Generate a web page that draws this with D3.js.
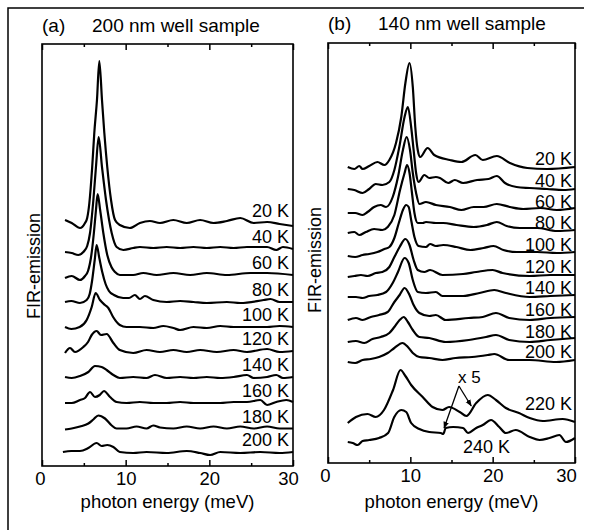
<!DOCTYPE html>
<html><head><meta charset="utf-8">
<script src="https://cdn.jsdelivr.net/npm/d3@7"></script>
<style>
html,body{margin:0;padding:0;background:#fff;}
svg{display:block;font-family:"Liberation Sans",Arial,Helvetica,sans-serif;}
</style></head><body>
<svg id="chart" width="596" height="530"></svg>
<script>
// ---------- data ----------
const energyTicks = [0, 10, 20, 30];
const energyMinorTicks = [5, 15, 25];

// Panel (a): 200 nm well sample — [photon energy (meV), emission (a.u., relative to curve baseline)]
const tempsA = ["20 K", "40 K", "60 K", "80 K", "100 K", "120 K", "140 K", "160 K", "180 K", "200 K"];
const offsetsA = [243, 217, 191, 164, 139, 115, 89, 63, 37.5, 14];
const a20K = [[2.75,3],[3.55,0],[4.54,-5],[5.14,0],[5.4,5],[5.66,20],[6.0,56],[6.25,90],[6.57,123],[6.85,162],[7.17,123],[7.45,90],[7.8,56],[8.25,23],[8.73,3],[9.3,-2],[10.5,-5],[11.7,0],[12.9,2],[14.1,0],[15.7,3],[17.3,0],[18.9,3],[20.5,0],[22.1,2],[23.7,5],[25.3,0],[26.9,1],[28.4,-1],[30,-3]];
const a40K = [[2.75,-3],[3.55,-4],[4.34,-6],[4.94,-3],[5.4,3],[5.74,16],[6.14,49],[6.45,82],[6.77,112],[7.17,82],[7.65,49],[8.33,16],[8.92,2],[9.72,-1],[10.9,1],[11.7,2],[13.3,1],[14.9,2],[16.5,1],[18.1,2],[19.7,1],[21.3,2],[22.9,1],[24.5,2],[26.9,2],[28.0,-1],[28.8,2],[30,0]];
const a60K = [[2.75,-3],[3.55,-1],[4.54,-5],[5.14,-1],[5.5,4],[5.9,20],[6.2,42],[6.45,65],[6.65,81],[6.95,65],[7.33,42],[7.8,20],[8.3,8],[8.73,3],[9.3,0],[10.9,0],[12.1,2],[13.7,0],[15.7,2],[17.7,0],[19.7,2],[22.1,0],[24.9,2],[26.9,2],[30,0]];
const a80K = [[2.75,0],[3.5,1],[4.54,-1],[5.34,2],[5.7,8],[6.0,22],[6.3,42],[6.53,57],[6.85,44],[7.2,30],[7.6,18],[8.0,11],[8.6,7],[9.7,4],[10.4,4],[11.1,7],[11.7,3],[12.3,6],[13.3,2],[14.9,0],[16.5,1],[18.1,0],[19.7,-1],[22.1,0],[23.7,-1],[26.5,2],[27.3,3],[28.4,0],[30,0]];
const a100K = [[2.75,0],[3.5,-2],[4.5,0],[5.34,7],[5.94,20],[6.41,34],[6.93,27],[7.53,22],[7.93,19],[8.5,10],[9.3,2],[10.1,0],[11.7,0],[13.3,-1],[14.5,1],[15.7,-1],[16.5,-3],[18.1,0],[19.7,-1],[21.3,1],[22.9,0],[24.5,0],[26.9,0],[28.4,1],[30,0]];
const a120K = [[2.75,-2],[3.35,3],[3.94,-1],[4.94,4],[5.5,9],[5.94,16],[6.53,20],[7.05,16],[7.73,17],[8.53,8],[9.3,1],[10.9,-2],[12.5,1],[14.1,-1],[15.7,1],[17.3,-1],[18.9,1],[20.9,-1],[22.9,1],[24.5,-1],[26.9,2],[28.4,-1],[30,0]];
const a140K = [[2.75,0],[3.55,-1],[4.54,1],[5.54,5],[6.33,11],[7.13,10],[7.73,7],[8.53,2],[9.3,-1],[10.9,0],[12.5,-1],[13.5,2],[14.9,-1],[16.5,0],[18.1,-1],[19.7,0],[21.3,-1],[22.9,0],[24.5,2],[25.3,-1],[26.9,0],[28.0,2],[28.8,-1],[30,0]];
const a160K = [[2.75,0],[3.55,0],[4.54,3],[5.14,5],[5.74,11],[6.33,6],[6.9,8],[7.41,12],[8.13,6],[8.92,1],[10.1,0],[11.7,1],[13.3,0],[14.9,0],[16.5,1],[18.1,0],[19.7,0],[21.3,0],[22.9,1],[24.5,1],[26.1,3],[26.9,-2],[28.0,1],[29.2,3],[30,1]];
const a180K = [[2.75,-1],[3.55,0],[4.54,2],[5.54,5],[6.14,9],[6.73,13],[7.53,10],[8.33,3],[8.92,0],[10.1,0],[11.3,2],[12.5,0],[13.3,3],[14.1,1],[15.7,0],[17.3,2],[18.9,0],[20.5,2],[22.1,0],[23.7,2],[25.3,0],[26.9,2],[28.4,0],[30,0]];
const a200K = [[2.5,0],[3.5,1],[4.54,1],[5.54,4],[6.53,9],[7.13,6],[7.8,7],[8.53,5],[9.3,0],[10.9,-1],[12.5,0],[14.9,-1],[17.3,1],[18.9,-1],[20.1,-3],[21.3,0],[23.7,-1],[26.1,0],[28.4,-1],[30,0]];
const seriesA = [a20K, a40K, a60K, a80K, a100K, a120K, a140K, a160K, a180K, a200K];

// Panel (b): 140 nm well sample
const tempsB = ["20 K", "40 K", "60 K", "80 K", "100 K", "120 K", "140 K", "160 K", "180 K", "200 K", "220 K", "240 K"];
const offsetsB = [296, 274, 253, 232, 210, 188, 167, 145, 123, 103, 41, 25];
const b20K = [[2.4,0],[3.2,-2],[3.8,1],[4.2,-2],[5.0,1],[6.0,5],[6.85,2],[7.45,7],[8.26,24],[8.9,50],[9.4,84],[9.9,104],[10.3,80],[10.6,40],[10.9,17],[11.2,10],[12.1,19],[12.9,12],[14.8,7],[16.2,5],[17.9,12],[18.8,7],[20.5,11],[22.1,4],[24.2,-1],[26.6,-2],[30,0]];
const b40K = [[2.4,0],[3.2,-1],[4.2,-4],[5.0,0],[5.8,5],[6.6,4],[7.45,7],[8.06,19],[8.66,42],[9.3,72],[9.7,82],[10.1,62],[10.4,39],[10.7,16],[11.0,7],[11.7,14],[12.3,11],[13.1,12],[13.6,11],[14.6,6],[15.4,9],[16.4,6],[18.1,9],[19.5,10],[20.5,13],[21.5,6],[22.9,2],[24.5,1],[26.6,0],[28.6,-1],[30,0]];
const b60K = [[2.4,-3],[3.3,-3],[4.2,-5],[4.8,-2],[5.6,3],[6.4,5],[7.05,3],[7.86,13],[8.5,33],[9.1,60],[9.55,73],[9.96,60],[10.3,37],[10.7,17],[11.1,6],[11.9,8],[13.1,5],[14.8,3],[16.2,0],[17.7,3],[18.9,3],[20.5,6],[22.1,3],[23.7,1],[25.8,2],[27.8,0],[30,2]];
const b80K = [[2.4,-2],[3.2,-1],[3.8,-4],[4.6,-1],[5.6,2],[6.6,1],[7.25,4],[8.06,16],[8.75,41],[9.3,58],[9.6,66],[9.9,58],[10.2,38],[10.5,18],[10.9,8],[11.5,8],[11.9,9],[13.1,8],[14.0,8],[15.6,6],[17.7,4],[19.3,6],[20.5,9],[21.7,5],[23.3,3],[25.4,3],[27.8,0],[30,1]];
const b100K = [[2.4,-3],[3.3,-4],[4.2,-2],[5.0,-1],[6.0,1],[6.85,4],[7.45,6],[8.06,15],[8.6,30],[9.1,43],[9.5,48],[9.8,46],[10.1,33],[10.5,16],[11.0,7],[11.9,6],[12.4,9],[13.1,7],[14.0,8],[15.6,6],[17.3,3],[18.9,5],[20.1,7],[21.3,3],[22.9,1],[25.4,1],[27.8,0],[30,1]];
const b120K = [[2.4,-2],[3.2,-1],[4.0,0],[4.8,-1],[5.8,2],[6.6,3],[7.45,8],[8.06,18],[8.7,28],[9.4,36],[9.9,30],[10.4,15],[10.9,5],[11.7,3],[12.4,5],[13.9,0],[16.4,1],[18.0,3],[20.0,5],[21.2,2],[24.5,-1],[27,0],[30,0]];
const b140K = [[2.4,-1],[3.4,-1],[4.2,-2],[5.0,0],[6.0,1],[7.05,4],[7.86,13],[8.5,24],[9.3,38],[9.8,33],[10.3,16],[10.9,4],[11.9,3],[13.1,4],[13.9,0],[16.4,0],[18.4,3],[20.2,6],[21.6,3],[24.5,-1],[27,0],[30,1]];
const b160K = [[2.4,-2],[3.4,0],[4.2,-2],[5.2,1],[6.2,3],[7.25,6],[8.06,16],[8.7,23],[9.3,30],[9.9,23],[10.4,13],[11.1,5],[12.3,2],[13.1,3],[14.3,-2],[17.1,0],[18.8,1],[20.4,5],[22.0,0],[24.5,-2],[27,0],[30,1]];
const b180K = [[2.4,-2],[3.4,-1],[4.4,-3],[5.4,1],[6.4,3],[7.45,7],[8.06,13],[8.7,20],[9.2,23],[9.7,18],[10.3,10],[11.1,3],[12.3,2],[14.3,-2],[17.1,0],[19.2,3],[20.4,5],[22.0,0],[24.5,-2],[27,0],[30,2]];
const b200K = [[2.4,-2],[3.3,-3],[4.2,0],[5.2,1],[6.2,3],[7.25,7],[8.06,12],[9.05,17],[9.7,13],[10.3,7],[11.1,3],[12.3,2],[13.9,0],[15.5,2],[17.5,3],[19.4,5],[20.2,6],[22.0,0],[24.5,0],[27.7,-2],[30,0]];
const b220K = [[2.4,-1],[3.4,5],[4.8,8],[5.8,5],[6.8,12],[7.9,32],[8.8,52],[9.4,46],[10.1,37],[11.5,25],[12.7,15],[13.9,12],[14.7,15],[16.0,10],[16.8,6],[18.0,19],[19.4,27],[20.4,22],[21.6,14],[23.2,9],[24.5,4],[26.1,1],[28.5,3],[30,0]];
const b240K = [[2.4,-4],[3.0,-5],[3.6,-7],[4.2,-3],[5.0,-2],[6.2,0],[7.3,5],[8.05,21],[8.9,28],[9.5,26],[10.1,15],[11.1,9],[12.3,6],[13.7,5],[14.0,4],[14.3,10],[15.2,11],[16.4,10],[17.0,5],[18.0,10],[18.8,13],[19.8,18],[20.8,11],[21.6,5],[22.8,8],[24.5,1],[25.7,-2],[26.9,0],[28.1,3],[28.9,-4],[30,0]];
const seriesB = [b20K, b40K, b60K, b80K, b100K, b120K, b140K, b160K, b180K, b200K, b220K, b240K];

// annotation "x 5" (data coords of panel b: [meV, a.u.])
const x5Text = [15.8, 80];
const x5From = [15.9, 77];
const x5Tips = [[17.4, 57], [14.1, 35]];

// ---------- drawing ----------
const svg = d3.select("#chart");
svg.append("rect").attr("width", 596).attr("height", 530).attr("fill", "#fff");
// outer figure frame (left + top)
svg.append("path").attr("d", "M8,530 L8,8 L584,8").attr("fill", "none").attr("stroke", "#000").attr("stroke-width", 1.5);

const defs = svg.append("defs");
defs.append("marker").attr("id", "ah").attr("viewBox", "0 0 10 10").attr("refX", 9).attr("refY", 5)
  .attr("markerWidth", 7).attr("markerHeight", 7).attr("markerUnits", "userSpaceOnUse").attr("orient", "auto")
  .append("path").attr("d", "M0,1 L10,5 L0,9 Z").attr("fill", "#000");

function drawPanel(o) {
  const g = svg.append("g");
  const x = d3.scaleLinear().domain([0, 30]).range([o.left, o.right]);
  const y = d3.scaleLinear().domain([0, o.top2bottom]).range([o.bottom, o.top]);

  // curves
  const line = off => d3.line().x(d => x(d[0])).y(d => y(d[1] + off)).curve(d3.curveMonotoneX);
  o.series.forEach((s, i) => {
    g.append("path").attr("d", line(o.offsets[i])(s)).attr("fill", "none")
      .attr("stroke", "#000").attr("stroke-width", 2.2).attr("stroke-linejoin", "round");
  });

  // axes: ticks inward on top and bottom
  const axB = g.append("g").attr("transform", `translate(0,${o.bottom})`)
    .call(d3.axisBottom(x).tickValues(energyTicks).tickSizeInner(-6).tickSizeOuter(0).tickPadding(6).tickFormat(d3.format("d")));
  const axBm = g.append("g").attr("transform", `translate(0,${o.bottom})`)
    .call(d3.axisBottom(x).tickValues(energyMinorTicks).tickSizeInner(-3).tickSizeOuter(0).tickFormat(""));
  const axT = g.append("g").attr("transform", `translate(0,${o.top})`)
    .call(d3.axisTop(x).tickValues(energyTicks).tickSizeInner(-6).tickSizeOuter(0).tickFormat(""));
  const axTm = g.append("g").attr("transform", `translate(0,${o.top})`)
    .call(d3.axisTop(x).tickValues(energyMinorTicks).tickSizeInner(-3).tickSizeOuter(0).tickFormat(""));
  [axB, axBm, axT, axTm].forEach(a => {
    a.select(".domain").remove();
    a.selectAll("line").attr("stroke", "#000").attr("stroke-width", 1.5);
  });
  axB.selectAll("text").attr("font-size", 18.5).attr("fill", "#000").attr("font-family", "Liberation Sans, Arial, sans-serif")
    .attr("dx", d => d === 30 ? o.lastDx : (d === 0 ? o.firstDx : 0));

  // frame
  g.append("rect").attr("x", o.left).attr("y", o.top).attr("width", o.right - o.left).attr("height", o.bottom - o.top)
    .attr("fill", "none").attr("stroke", "#000").attr("stroke-width", 1.6);

  // curve labels
  o.labels.forEach((t, i) => {
    const p = o.labelPos(i, x, y);
    g.append("text").attr("x", p[0]).attr("y", p[1]).attr("text-anchor", p[2]).attr("font-size", 18)
      .attr("fill", "#000").text(t);
  });

  // titles
  g.append("text").attr("x", o.left).attr("y", o.titleY).attr("font-size", 19).text(o.tag);
  g.append("text").attr("x", o.left + 50).attr("y", o.titleY).attr("font-size", 19).text(o.title);
  // x title
  g.append("text").attr("x", (o.left + o.right) / 2).attr("y", 508).attr("text-anchor", "middle")
    .attr("font-size", 18.5).text("photon energy (meV)");
  // y title
  g.append("text").attr("transform", `translate(${o.yLabelX},${o.yLabelY}) rotate(-90)`).attr("text-anchor", "middle")
    .attr("font-size", 18).text("FIR-emission");
  return {g, x, y};
}

drawPanel({
  left: 42, right: 293, top: 44, bottom: 466, top2bottom: 422,
  series: seriesA, offsets: offsetsA, labels: tempsA,
  labelPos: (i, x, y) => [x(30) - 4, y(offsetsA[i]) - 6, "end"],
  tag: "(a)", title: "200 nm well sample", titleY: 32,
  yLabelX: 40, yLabelY: 266, lastDx: -5, firstDx: -2
});

const pb = drawPanel({
  left: 328, right: 575, top: 43, bottom: 463, top2bottom: 420,
  series: seriesB, offsets: offsetsB, labels: tempsB,
  labelPos: (i, x, y) => {
    if (i === 10) return [x(30) - 3, y(offsetsB[i]) - 12, "end"];
    if (i === 11) return [x(16.4), y(offsetsB[i]) + 15, "start"];
    return [x(30) - 3, y(offsetsB[i]) - 2, "end"];
  },
  tag: "(b)", title: "140 nm well sample", titleY: 30,
  yLabelX: 321, yLabelY: 260, lastDx: -9, firstDx: -3
});

// "x 5" annotation with arrows
pb.g.append("text").attr("x", pb.x(x5Text[0])).attr("y", pb.y(x5Text[1])).attr("font-size", 17).text("x 5");
x5Tips.forEach(t => {
  pb.g.append("line").attr("x1", pb.x(x5From[0])).attr("y1", pb.y(x5From[1]))
    .attr("x2", pb.x(t[0])).attr("y2", pb.y(t[1])).attr("stroke", "#000").attr("stroke-width", 1.3)
    .attr("marker-end", "url(#ah)");
});
</script></body></html>
